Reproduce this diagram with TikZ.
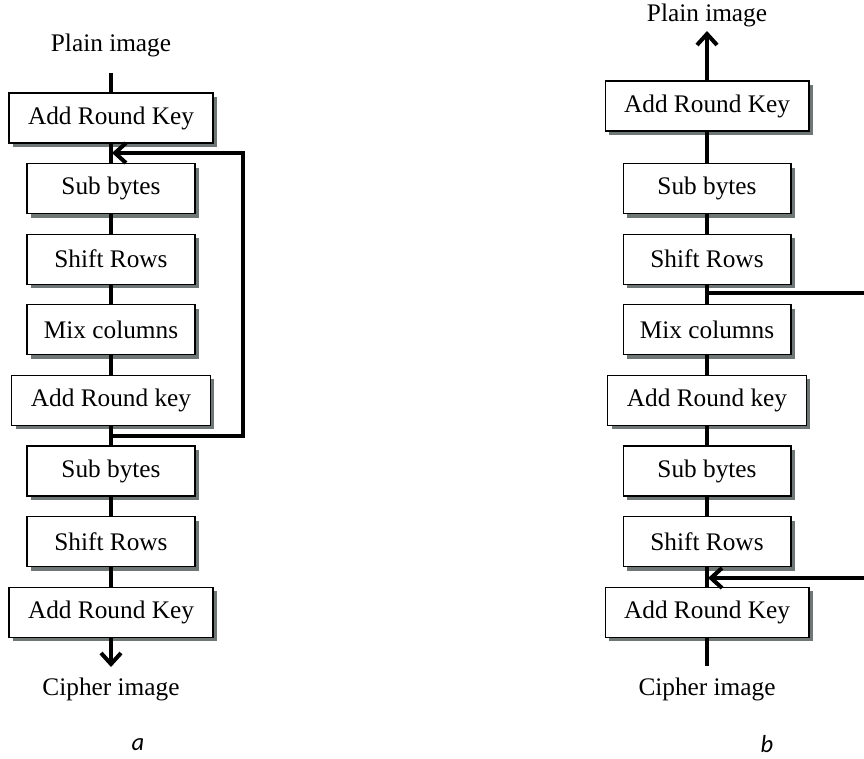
\documentclass[tikz,border=0pt]{standalone}
\usepackage{fontspec}
\setmainfont{Liberation Serif}
\newfontfamily\capfont{Carlito}
\usepackage{xcolor}
\usetikzlibrary{positioning}
\usetikzlibrary{arrows.meta}
\usetikzlibrary{shadows}
\definecolor{shadegray}{RGB}{110,118,118}

\begin{document}
\begin{tikzpicture}[x=0.02cm, y=-0.02cm, font=\fontsize{14.4}{17}\selectfont,
    stage/.style={draw, rectangle, fill=white, line width=0.6pt, minimum height=1cm, minimum width=3.36cm,
        drop shadow={shadow xshift=0.08cm, shadow yshift=-0.08cm, fill=shadegray, opacity=1}},
    keystage/.style={stage, minimum width=4.08cm},
    link/.style={line width=2.3pt, line join=miter},
    flow/.style={link, -{Straight Barb[length=0.22cm, width=0.4cm]}},
    caption/.style={inner sep=0pt, font=\capfont\itshape\fontsize{14}{17}\selectfont}]
    \useasboundingbox (0,0) rectangle (864,759);

    % a: encryption
    \node (lplain) at (111,45) {Plain image};
    \node[keystage] (lark1) at (111,118) {Add Round Key};
    \node[stage] (lsub1) at (111,188.6) {Sub bytes};
    \node[stage] (lshift1) at (111,259.2) {Shift Rows};
    \node[stage] (lmix) at (111,329.8) {Mix columns};
    \node[stage, minimum width=3.98cm] (lark2) at (111,400.4) {Add Round key};
    \node[stage] (lsub2) at (111,471) {Sub bytes};
    \node[stage] (lshift2) at (111,541.6) {Shift Rows};
    \node[keystage] (lark3) at (111,612.2) {Add Round Key};
    \node (lcipher) at (111,689) {Cipher image};
    \node[caption] (la) at (138,745) {a};

    \coordinate (ltop) at (111,73);
    \coordinate (ltip) at (111,667);
    \coordinate (lfork) at (111,436);
    \coordinate (lturn) at (243,153);
    \coordinate (ljoin) at (112,153);

    \draw[link] (ltop) -- (lark1);
    \draw[link] (lark1) -- (lsub1);
    \draw[link] (lsub1) -- (lshift1);
    \draw[link] (lshift1) -- (lmix);
    \draw[link] (lmix) -- (lark2);
    \draw[link] (lark2) -- (lsub2);
    \draw[link] (lsub2) -- (lshift2);
    \draw[link] (lshift2) -- (lark3);
    \draw[flow] (lark3) -- (ltip);
    \draw[flow] (lfork) -| (lturn) -- (ljoin);

    % b: decryption
    \node (rplain) at (707,15) {Plain image};
    \node[keystage] (rark1) at (707,106) {Add Round Key};
    \node[stage] (rsub1) at (707,188.6) {Sub bytes};
    \node[stage] (rshift1) at (707,259.2) {Shift Rows};
    \node[stage] (rmix) at (707,329.8) {Mix columns};
    \node[stage, minimum width=3.98cm] (rark2) at (707,400.4) {Add Round key};
    \node[stage] (rsub2) at (707,471) {Sub bytes};
    \node[stage] (rshift2) at (707,541.6) {Shift Rows};
    \node[keystage] (rark3) at (707,612.2) {Add Round Key};
    \node (rcipher) at (707,689) {Cipher image};
    \node[caption] (rb) at (767,744) {b};

    \coordinate (rtip) at (707,31);
    \coordinate (rbottom) at (707,666);
    \coordinate (rfork) at (707,293);
    \coordinate (redge1) at (864,293);
    \coordinate (redge2) at (864,578);
    \coordinate (rjoin) at (708,578);

    \draw[flow] (rark1) -- (rtip);
    \draw[link] (rark1) -- (rsub1);
    \draw[link] (rsub1) -- (rshift1);
    \draw[link] (rshift1) -- (rmix);
    \draw[link] (rmix) -- (rark2);
    \draw[link] (rark2) -- (rsub2);
    \draw[link] (rsub2) -- (rshift2);
    \draw[link] (rshift2) -- (rark3);
    \draw[link] (rark3) -- (rbottom);
    \draw[link] (rfork) -- (redge1);
    \draw[flow] (redge2) -- (rjoin);
\end{tikzpicture}
\end{document}
